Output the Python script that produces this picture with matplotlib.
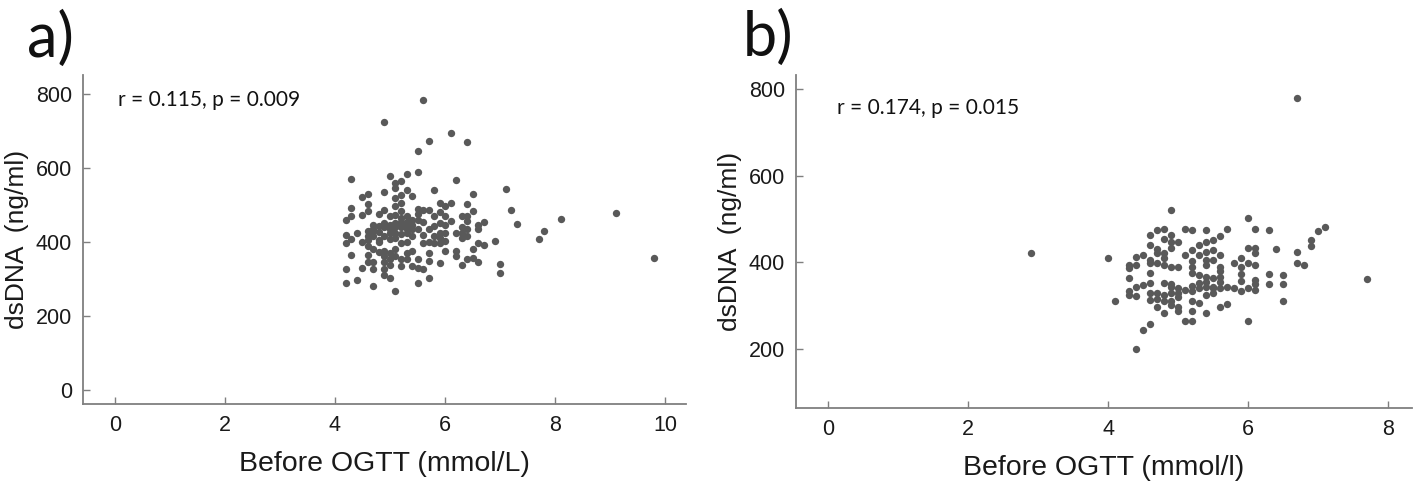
import matplotlib
matplotlib.use("Agg")
import matplotlib.pyplot as plt

# panel a: before OGTT glucose (mmol/L) vs dsDNA (ng/ml)
a_x = [
    4.2, 4.2, 4.2, 4.2, 4.2,
    4.3, 4.3, 4.3, 4.3, 4.3,
    4.4, 4.4,
    4.5, 4.5, 4.5, 4.5,
    4.6, 4.6, 4.6, 4.6, 4.6, 4.6, 4.6, 4.6, 4.6,
    4.7, 4.7, 4.7, 4.7, 4.7, 4.7, 4.7, 4.7,
    4.8, 4.8, 4.8, 4.8, 4.8, 4.8,
    4.9, 4.9, 4.9, 4.9, 4.9, 4.9, 4.9, 4.9, 4.9, 4.9, 4.9,
    5.0, 5.0, 5.0, 5.0, 5.0, 5.0, 5.0, 5.0, 5.0, 5.0,
    5.1, 5.1, 5.1, 5.1, 5.1, 5.1, 5.1, 5.1, 5.1, 5.1, 5.1, 5.1,
    5.2, 5.2, 5.2, 5.2, 5.2, 5.2, 5.2, 5.2, 5.2, 5.2, 5.2, 5.2,
    5.3, 5.3, 5.3, 5.3, 5.3, 5.3, 5.3, 5.3, 5.3, 5.3,
    5.4, 5.4, 5.4, 5.4, 5.4, 5.4, 5.4,
    5.5, 5.5, 5.5, 5.5, 5.5, 5.5, 5.5, 5.5, 5.5,
    5.6, 5.6, 5.6, 5.6, 5.6, 5.6,
    5.7, 5.7, 5.7, 5.7, 5.7, 5.7, 5.7,
    5.8, 5.8, 5.8, 5.8, 5.8,
    5.9, 5.9, 5.9, 5.9, 5.9, 5.9, 5.9,
    6.0, 6.0, 6.0, 6.0, 6.0, 6.0,
    6.1, 6.1, 6.1,
    6.2, 6.2, 6.2, 6.2,
    6.3, 6.3, 6.3, 6.3, 6.3,
    6.4, 6.4, 6.4, 6.4, 6.4, 6.4, 6.4,
    6.5, 6.5, 6.5, 6.5,
    6.6, 6.6, 6.6, 6.6,
    6.7, 6.7,
    6.9, 7.0, 7.0, 7.1, 7.2, 7.3, 7.7, 7.8, 8.1, 9.1, 9.8,
]
a_y = [
    460, 420, 396, 328, 288,
    569, 493, 469, 409, 364,
    425, 296,
    521, 473, 399, 331,
    530, 502, 483, 429, 415, 405, 389, 366, 346,
    445, 434, 430, 416, 382, 346, 326, 282,
    476, 444, 426, 405, 400, 372,
    724, 535, 487, 452, 440, 416, 375, 362, 347, 326, 312,
    579, 469, 447, 435, 425, 407, 371, 353, 339, 303,
    559, 546, 519, 496, 474, 452, 440, 425, 410, 380, 362, 267,
    564, 528, 505, 483, 465, 455, 447, 440, 422, 398, 353, 335,
    584, 541, 469, 455, 444, 435, 425, 399, 371, 353,
    525, 460, 445, 434, 416, 375, 335,
    647, 588, 489, 475, 460, 434, 353, 330, 289,
    783, 487, 455, 420, 398, 326,
    674, 487, 434, 399, 371, 348, 302,
    541, 470, 444, 416, 398,
    505, 480, 452, 425, 410, 398, 344,
    496, 469, 445, 425, 402, 375,
    695, 505, 456,
    567, 425, 375, 362,
    469, 440, 425, 411, 339,
    669, 502, 470, 456, 434, 416, 353,
    530, 483, 380, 357,
    447, 434, 398, 346,
    454, 391,
    403, 340, 317, 543, 487, 450, 407, 429, 463, 479, 356,
]

# panel b: before OGTT glucose (mmol/l) vs dsDNA (ng/ml)
b_x = [
    2.9, 4.0, 4.1,
    4.3, 4.3, 4.3, 4.3, 4.3,
    4.4, 4.4, 4.4, 4.4, 4.4,
    4.5, 4.5, 4.5,
    4.6, 4.6, 4.6, 4.6, 4.6, 4.6, 4.6, 4.6, 4.6,
    4.7, 4.7, 4.7, 4.7, 4.7, 4.7, 4.7,
    4.8, 4.8, 4.8, 4.8, 4.8, 4.8, 4.8, 4.8, 4.8,
    4.9, 4.9, 4.9, 4.9, 4.9, 4.9, 4.9, 4.9, 4.9, 4.9,
    5.0, 5.0, 5.0, 5.0, 5.0, 5.0, 5.0,
    5.1, 5.1, 5.1, 5.1,
    5.2, 5.2, 5.2, 5.2, 5.2, 5.2, 5.2, 5.2, 5.2, 5.2,
    5.3, 5.3, 5.3, 5.3, 5.3, 5.3,
    5.4, 5.4, 5.4, 5.4, 5.4, 5.4, 5.4, 5.4, 5.4, 5.4,
    5.5, 5.5, 5.5, 5.5, 5.5, 5.5, 5.5,
    5.6, 5.6, 5.6, 5.6, 5.6, 5.6, 5.6, 5.6,
    5.7, 5.7, 5.7,
    5.8, 5.8,
    5.9, 5.9, 5.9, 5.9, 5.9,
    6.0, 6.0, 6.0, 6.0, 6.0,
    6.1, 6.1, 6.1, 6.1, 6.1, 6.1, 6.1,
    6.3, 6.3, 6.3,
    6.4,
    6.5, 6.5, 6.5,
    6.7, 6.7, 6.7,
    6.8, 6.9, 6.9, 7.0, 7.1, 7.7,
]
b_y = [
    421, 411, 310,
    394, 386, 365, 333, 325,
    413, 394, 343, 323, 200,
    417, 348, 244,
    463, 440, 405, 398, 375, 352, 329, 313, 258,
    474, 430, 421, 398, 329, 315, 298,
    478, 455, 421, 409, 395, 352, 325, 310, 283,
    521, 463, 448, 433, 390, 350, 344, 329, 310, 302,
    448, 390, 340, 330, 321, 298, 287,
    476, 417, 336, 264,
    474, 428, 402, 390, 375, 345, 333, 310, 287, 264,
    440, 417, 371, 352, 340, 306,
    474, 448, 425, 405, 394, 367, 355, 344, 325, 283,
    452, 428, 405, 363, 344, 340, 329,
    460, 417, 390, 380, 367, 355, 340, 298,
    476, 344, 304,
    399, 340,
    409, 390, 373, 356, 333,
    503, 433, 398, 340, 265,
    478, 433, 421, 394, 360, 350, 336,
    474, 373, 350,
    430,
    371, 350, 311,
    779, 424, 399,
    395, 451, 438, 472, 482, 362,
]

panels = [
    dict(label="a)", x=a_x, y=a_y, xlim=(-0.58, 10.38), ylim=(-38, 851),
         xticks=[0, 2, 4, 6, 8, 10], yticks=[0, 200, 400, 600, 800],
         xlabel="Before OGTT (mmol/L)", note="r = 0.115, p = 0.009",
         note_xy=(0.058, 0.924), label_xy=(-0.092, 1.11),
         pos=[0.0585, 0.172, 0.4253, 0.674]),
    dict(label="b)", x=b_x, y=b_y, xlim=(-0.46, 8.34), ylim=(64, 832),
         xticks=[0, 2, 4, 6, 8], yticks=[200, 400, 600, 800],
         xlabel="Before OGTT (mmol/l)", note="r = 0.174, p = 0.015",
         note_xy=(0.066, 0.90), label_xy=(-0.087, 1.11),
         pos=[0.5614, 0.164, 0.4344, 0.682]),
]

tick_font = ["Liberation Sans", "DejaVu Sans"]
label_font = ["Liberation Sans", "DejaVu Sans"]
note_font = ["Lato", "DejaVu Sans"]

fig = plt.figure(figsize=(14.18, 4.88), dpi=100)
for p in panels:
    ax = fig.add_axes(p["pos"])
    ax.scatter(p["x"], p["y"], s=28, color="#595959", linewidths=0, zorder=3)
    ax.set_xlim(*p["xlim"])
    ax.set_ylim(*p["ylim"])
    ax.set_xticks(p["xticks"])
    ax.set_yticks(p["yticks"])
    for side in ("top", "right"):
        ax.spines[side].set_visible(False)
    for side in ("left", "bottom"):
        ax.spines[side].set_color("#7f7f7f")
        ax.spines[side].set_linewidth(1.3)
    ax.tick_params(direction="in", length=5, width=1, color="#7f7f7f",
                   labelsize=15.5, labelcolor="#1a1a1a", pad=8)
    for lab in ax.get_xticklabels() + ax.get_yticklabels():
        lab.set_family(tick_font)
    ax.set_xlabel(p["xlabel"], fontsize=20.5, family=label_font, color="#1a1a1a", labelpad=11)
    ax.set_ylabel("dsDNA  (ng/ml)", fontsize=19, family=label_font, color="#1a1a1a", labelpad=5)
    ax.text(*p["note_xy"], p["note"], transform=ax.transAxes, fontsize=15,
            family=note_font, color="#111111", va="center")
    ax.text(*p["label_xy"], p["label"], transform=ax.transAxes, fontsize=44,
            family=note_font, color="#111111", va="center")

fig.savefig("out.png", dpi=100)
